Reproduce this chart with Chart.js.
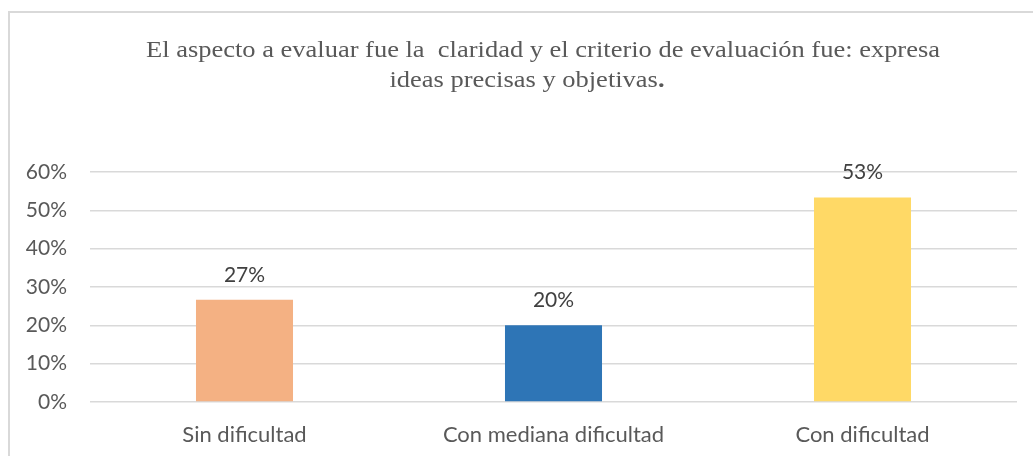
<!DOCTYPE html>
<html><head><meta charset="utf-8">
<script src="https://cdn.jsdelivr.net/npm/chart.js@4/dist/chart.umd.min.js"></script>
<style>html,body{margin:0;padding:0;background:#fff;overflow:hidden}#wrap{position:relative;width:1033px;height:456px}</style>
</head><body><div id="wrap"><canvas id="c" width="1033" height="456"></canvas></div>
<script>
const categories = ['Sin dificultad', 'Con mediana dificultad', 'Con dificultad'];
const values = [0.2667, 0.20, 0.5333];
const valueLabels = ['27%', '20%', '53%'];
const barColors = ['#F4B183', '#2E75B6', '#FFD966'];
const titleLine1 = 'El aspecto a evaluar fue la  claridad y el criterio de evaluación fue: expresa';
const titleLine2 = 'ideas precisas y objetivas';
const titleEnd = '.';

const SANS = 'Lato, "Liberation Sans", sans-serif';
const SERIF = '"Liberation Serif", "DejaVu Serif", serif';

const decor = {
  id: 'decor',
  beforeDraw(chart) {
    const ctx = chart.ctx;
    ctx.save();
    ctx.strokeStyle = '#d9d9d9';
    ctx.lineWidth = 2;
    ctx.strokeRect(9, 12, 1100, 1000);
    ctx.restore();
  },
  afterDatasetsDraw(chart) {
    const ctx = chart.ctx;
    ctx.save();
    // data labels
    ctx.font = '21px ' + SANS;
    ctx.fillStyle = '#404040';
    ctx.textAlign = 'center';
    ctx.textBaseline = 'middle';
    chart.getDatasetMeta(0).data.forEach((bar, i) => {
      ctx.fillText(valueLabels[i], bar.x, bar.y - 25);
    });
    ctx.restore();
    // title (Word-like Times, slightly wide)
    ctx.save();
    ctx.fillStyle = '#595959';
    ctx.textBaseline = 'alphabetic';
    ctx.textAlign = 'left';
    ctx.font = '24px ' + SERIF;
    const w1 = ctx.measureText(titleLine1).width;
    const sx = 794 / w1;
    ctx.translate(543, 0);
    ctx.scale(sx, 1);
    ctx.fillText(titleLine1, -w1 / 2, 57);
    const w2 = ctx.measureText(titleLine2).width;
    ctx.font = 'bold 24px ' + SERIF;
    const we = ctx.measureText(titleEnd).width;
    ctx.restore();
    ctx.save();
    ctx.fillStyle = '#595959';
    ctx.textBaseline = 'alphabetic';
    ctx.textAlign = 'left';
    ctx.translate(527, 0);
    ctx.scale(sx, 1);
    const x0 = -(w2 + we) / 2;
    ctx.font = '24px ' + SERIF;
    ctx.fillText(titleLine2, x0, 87);
    ctx.font = 'bold 24px ' + SERIF;
    ctx.fillText(titleEnd, x0 + w2, 87);
    ctx.restore();
  }
};

new Chart(document.getElementById('c'), {
  type: 'bar',
  data: {
    labels: categories,
    datasets: [{
      data: values,
      backgroundColor: barColors,
      borderWidth: 0,
      categoryPercentage: 1,
      barPercentage: 0.314
    }]
  },
  options: {
    responsive: false,
    animation: false,
    devicePixelRatio: 1,
    layout: { padding: { left: 0, right: 16, top: 172, bottom: 0 } },
    plugins: { legend: { display: false }, tooltip: { enabled: false }, title: { display: false } },
    scales: {
      y: {
        min: 0, max: 0.6,
        ticks: {
          stepSize: 0.1,
          callback: v => Math.round(v * 100) + '%',
          font: { family: SANS, size: 21 },
          color: '#595959',
          padding: 23
        },
        grid: { color: '#d9d9d9', lineWidth: 1.5, drawTicks: false },
        border: { display: false },
        afterFit: s => { s.width = 90; }
      },
      x: {
        grid: { display: false },
        border: { display: false },
        ticks: { font: { family: SANS, size: 22 }, color: '#595959', padding: 12 },
        afterFit: s => { s.height = 54; }
      }
    }
  },
  plugins: [decor]
});
</script>
</body></html>
